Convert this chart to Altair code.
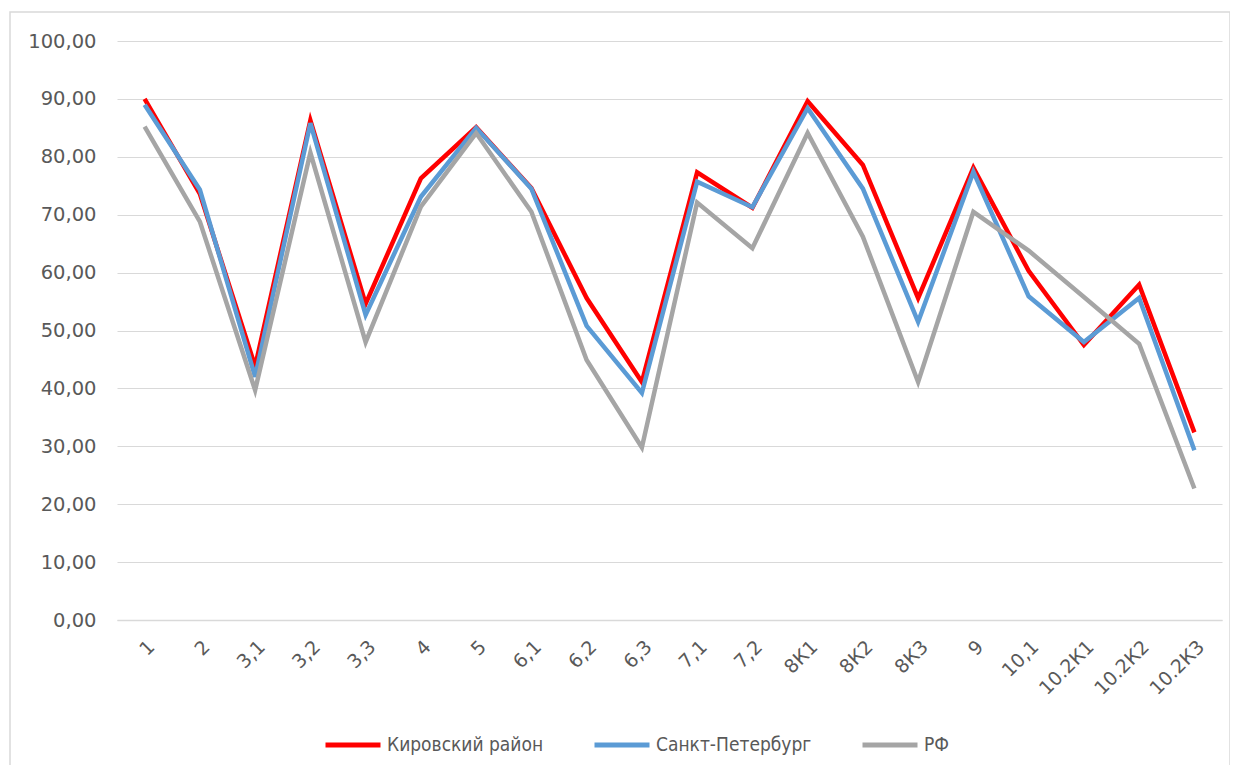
import altair as alt
import pandas as pd

categories = ["1", "2", "3,1", "3,2", "3,3", "4", "5", "6,1", "6,2", "6,3",
              "7,1", "7,2", "8К1", "8К2", "8К3", "9", "10,1", "10.2К1", "10.2К2", "10.2К3"]
kirovsky = [90.0, 73.6, 43.8, 86.3, 54.6, 76.3, 85.1, 74.6, 55.6, 41.1,
            77.3, 71.2, 89.6, 78.6, 55.6, 78.1, 60.3, 47.5, 57.9, 32.4]
spb = [89.0, 74.3, 42.0, 85.8, 52.7, 73.1, 85.0, 74.5, 50.8, 39.2,
       75.7, 71.3, 88.4, 74.5, 51.5, 77.4, 55.9, 48.0, 55.6, 29.3]
rf = [85.2, 68.8, 39.7, 80.7, 48.0, 71.4, 84.1, 70.5, 44.9, 29.8,
      72.1, 64.2, 84.1, 66.2, 41.1, 70.5, 63.8, 55.8, 47.7, 22.7]
series_names = ["Кировский район", "Санкт-Петербург", "РФ"]
series_colors = ["#FF0000", "#5B9BD5", "#A5A5A5"]

rows = []
for name, vals in zip(series_names, [kirovsky, spb, rf]):
    for i, (c, v) in enumerate(zip(categories, vals)):
        rows.append({"cat": c, "value": v, "series": name, "ord": series_names.index(name)})
df = pd.DataFrame(rows)

W, H = 1105, 579

border = alt.Chart(pd.DataFrame({"a": [0]})).mark_rect(
    fill=None, stroke="#D9D9D9", strokeWidth=1.5
).encode(
    x=alt.value(-107), x2=alt.value(1113), y=alt.value(-29), y2=alt.value(731)
)

lines = alt.Chart(df).mark_line(strokeWidth=4.5, strokeJoin="miter").encode(
    x=alt.X("cat:N", sort=categories, scale=alt.Scale(type="point", padding=0.5),
            axis=alt.Axis(title=None, labelAngle=-45, ticks=False, domainColor="#D9D9D9",
                          domainWidth=1.5, labelFont="DejaVu Sans", labelFontSize=19,
                          labelColor="#595959", labelPadding=17, grid=False)),
    y=alt.Y("value:Q", scale=alt.Scale(domain=[0, 100], nice=False),
            axis=alt.Axis(title=None, values=list(range(0, 101, 10)),
                          labelExpr="replace(format(datum.value, '.2f'), '.', ',')",
                          ticks=False, domain=False, gridColor="#D9D9D9", gridWidth=1.2,
                          labelFont="DejaVu Sans", labelFontSize=19.5, labelColor="#595959",
                          labelPadding=21)),
    color=alt.Color("series:N", sort=series_names,
                    scale=alt.Scale(domain=series_names, range=series_colors),
                    legend=alt.Legend(title=None, orient="none", direction="horizontal",
                                      legendX=206, legendY=674, symbolType="stroke",
                                      symbolSize=3025, symbolStrokeWidth=5,
                                      labelFont="DejaVu Sans Condensed, Roboto Condensed, Roboto, sans-serif",
                                      labelFontSize=19,
                                      labelColor="#595959", labelOffset=4,
                                      columnPadding=40, padding=0)),
    order=alt.Order("ord:Q"),
    detail="series:N",
)

chart = alt.layer(border, lines).properties(
    width=W, height=H,
    autosize=alt.AutoSizeParams(type="none"),
    padding={"left": 109, "top": 33, "right": 8, "bottom": 145},
).configure_view(stroke=None)

chart.save("out.html", embed_options={"renderer": "svg", "actions": False})
